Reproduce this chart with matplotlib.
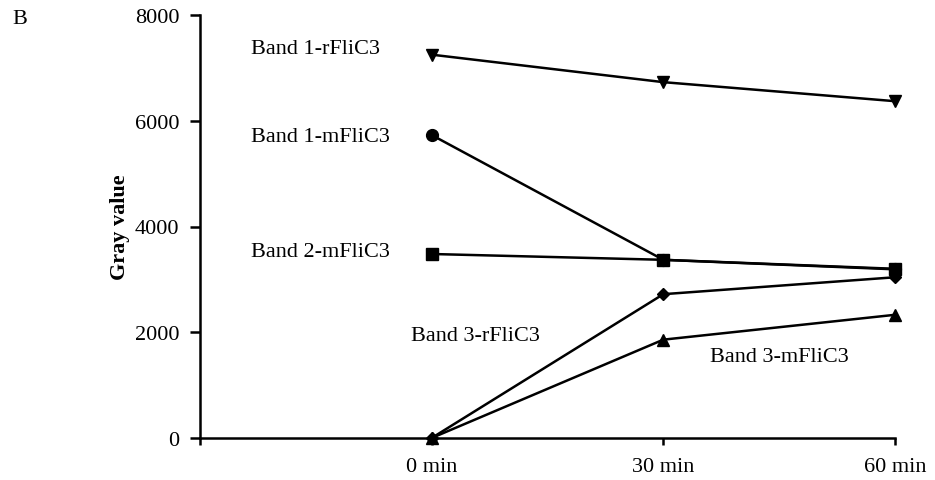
import numpy as np
import matplotlib.pyplot as plt

plt.rcParams['font.family'] = ['Liberation Serif', 'DejaVu Serif']

# category positions: first slot is an empty origin slot
times = ['', '0 min', '30 min', '60 min']
xpos = [1, 2, 3]

band1_r = [7250, 6730, 6370]
band1_m = [5730, 3370, 3190]
band2_m = [3480, 3370, 3200]
band3_r = [0, 2720, 3040]
band3_m = [0, 1860, 2330]

labels = {
    'Band 1-rFliC3': (0.22, 7360),
    'Band 1-mFliC3': (0.22, 5710),
    'Band 2-mFliC3': (0.22, 3520),
    'Band 3-rFliC3': (0.91, 1930),
    'Band 3-mFliC3': (2.20, 1550),
}

FS = 16

fig = plt.figure(figsize=(9.35, 4.81), dpi=100)
ax = fig.add_axes([200/935, 1-439/481, 695/935, 423/481])

kw = dict(color='black', lw=1.8, clip_on=False)
ax.plot(xpos, band1_r, marker='v', ms=9, **kw)
ax.plot(xpos, band1_m, marker='o', ms=8.5, **kw)
ax.plot(xpos, band2_m, marker='s', ms=8.5, **kw)
ax.plot(xpos, band3_r, marker='D', ms=6.5, **kw)
ax.plot(xpos, band3_m, marker='^', ms=9, **kw)

for txt, (x, y) in labels.items():
    ax.text(x, y, txt, fontsize=FS, va='center', ha='left')

ax.set_xlim(0, 3)
ax.set_ylim(0, 8000)
ax.set_yticks([0, 2000, 4000, 6000, 8000])
ax.set_xticks([0, 1, 2, 3])
ax.set_xticklabels(times, fontsize=FS)
ax.tick_params(axis='y', direction='out', length=7, width=1.8, labelsize=FS, pad=8)
ax.tick_params(axis='x', direction='out', length=5, width=1.8, pad=9)

for s in ['top', 'right']:
    ax.spines[s].set_visible(False)
for s in ['left', 'bottom']:
    ax.spines[s].set_linewidth(1.8)

ax.set_ylabel('Gray value', fontsize=FS, fontweight='bold', labelpad=3)
fig.text(12/935, 1-20/481, 'B', fontsize=FS, va='center', ha='left')

fig.savefig('out.png', dpi=100, facecolor='white')
